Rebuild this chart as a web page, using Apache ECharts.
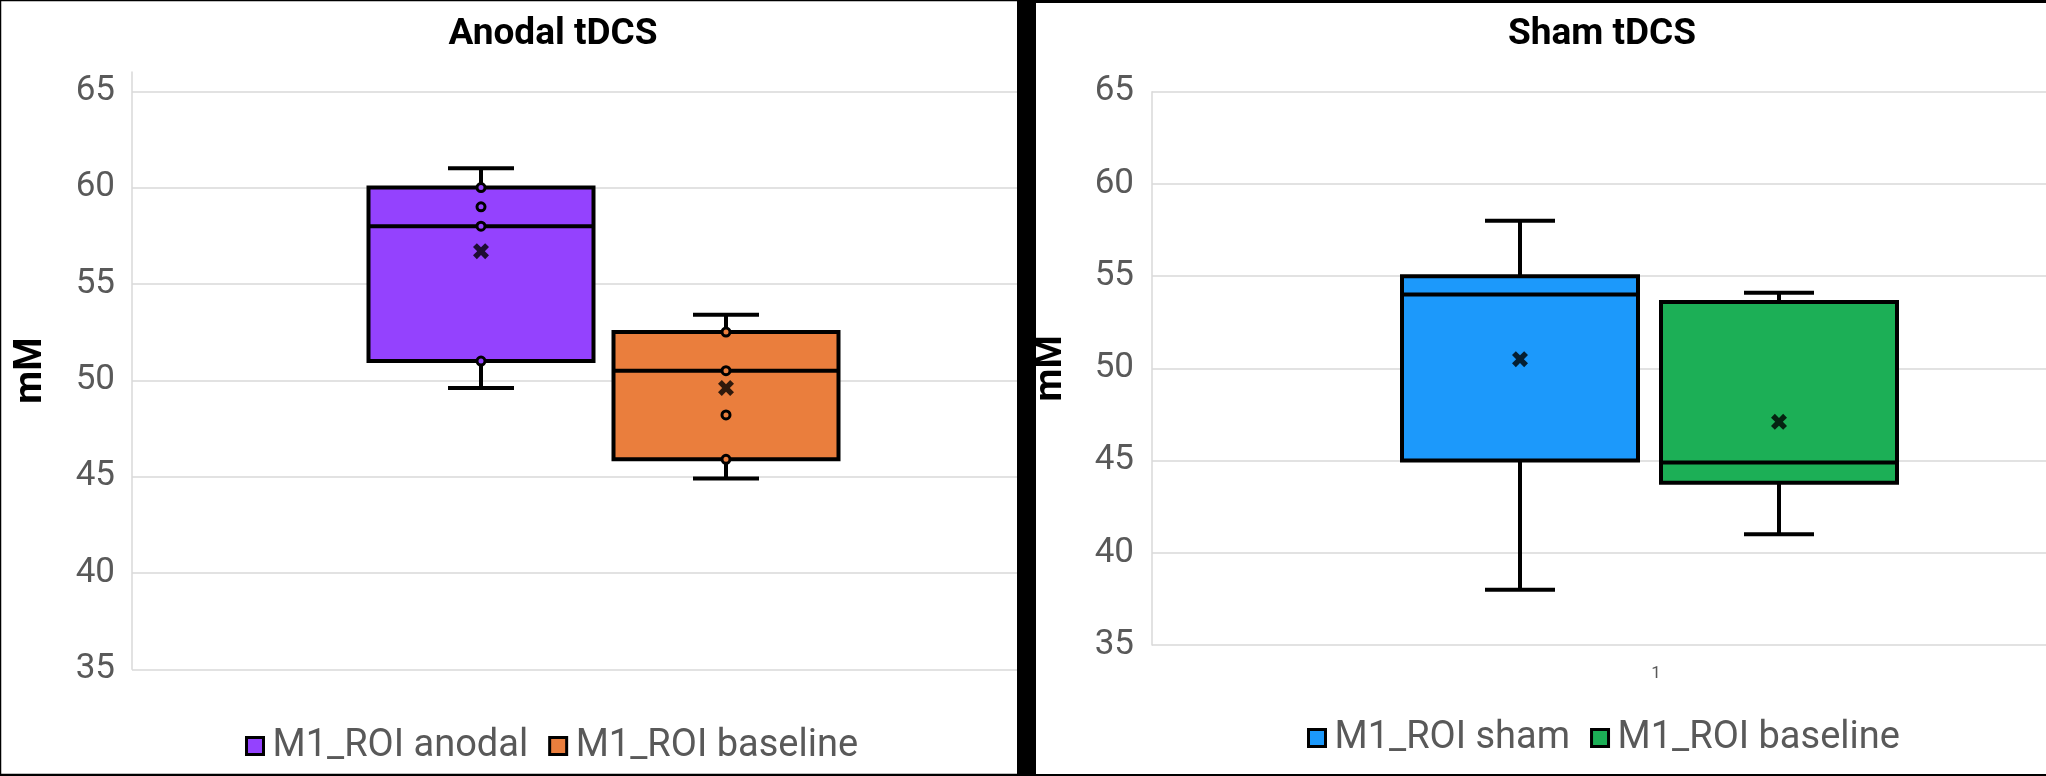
<!DOCTYPE html>
<html>
<head>
<meta charset="utf-8">
<script src="https://cdn.jsdelivr.net/npm/echarts@6/dist/echarts.min.js"></script>
<style>
  html, body { margin: 0; padding: 0; background: #fff; }
  #chart { width: 2046px; height: 776px; }
</style>
</head>
<body>
<div id="chart"></div>
<script>
// ---------------- data ----------------
const panelTitles = ['Anodal tDCS', 'Sham tDCS'];
const anodalCategories = ['M1_ROI anodal', 'M1_ROI baseline'];
const shamCategories = ['M1_ROI sham', 'M1_ROI baseline'];
const xTickLabels = ['1'];
// box stats: [min, Q1, median, Q3, max]
const anodalBox = [49.6, 51.0, 58.0, 60.0, 61.0];
const anodalBaselineBox = [44.9, 45.9, 50.5, 52.5, 53.4];
const shamBox = [38.0, 45.0, 54.0, 55.0, 58.0];
const shamBaselineBox = [41.0, 43.8, 44.9, 53.6, 54.1];
// means (x markers)
const anodalMean = 56.7;
const anodalBaselineMean = 49.6;
const shamMean = 50.5;
const shamBaselineMean = 47.1;
// inner points
const anodalPoints = [60, 59, 58, 51];
const anodalBaselinePoints = [52.5, 50.5, 48.2, 45.9];
// y axis
const yMin = 35, yMax = 65, yStep = 5;

// ---------------- styles ----------------
const FONT = 'Roboto, "Liberation Sans", sans-serif';
const C_PURPLE = '#9442FE';
const C_ORANGE = '#EA7E3D';
const C_BLUE = '#1C99FB';
const C_GREEN = '#1CAF56';
const GRID_GRAY = '#D9D9D9';
const LABEL_GRAY = '#595959';
const X_SYMBOL = 'path://M0,2.4 L2.4,0 L5,2.6 L7.6,0 L10,2.4 L7.4,5 L10,7.6 L7.6,10 L5,7.4 L2.4,10 L0,7.6 L2.6,5 Z';

function boxRender(boxW, capW) {
  return function (params, api) {
    const xi = api.value(0);
    const pMin = api.coord([xi, api.value(1)]);
    const pQ1 = api.coord([xi, api.value(2)]);
    const pMed = api.coord([xi, api.value(3)]);
    const pQ3 = api.coord([xi, api.value(4)]);
    const pMax = api.coord([xi, api.value(5)]);
    const x = pMin[0];
    const color = api.visual('color');
    const ls = { stroke: '#000', lineWidth: 4, lineCap: 'butt' };
    return {
      type: 'group',
      children: [
        { type: 'line', shape: { x1: x, y1: pQ3[1], x2: x, y2: pMax[1] }, style: ls },
        { type: 'line', shape: { x1: x, y1: pQ1[1], x2: x, y2: pMin[1] }, style: ls },
        { type: 'line', shape: { x1: x - capW / 2, y1: pMax[1], x2: x + capW / 2, y2: pMax[1] }, style: ls },
        { type: 'line', shape: { x1: x - capW / 2, y1: pMin[1], x2: x + capW / 2, y2: pMin[1] }, style: ls },
        { type: 'rect', shape: { x: x - boxW / 2, y: pQ3[1], width: boxW, height: pQ1[1] - pQ3[1] },
          style: { fill: color, stroke: '#000', lineWidth: 4 } },
        { type: 'line', shape: { x1: x - boxW / 2, y1: pMed[1], x2: x + boxW / 2, y2: pMed[1] }, style: ls }
      ]
    };
  };
}

function boxSeries(name, id, idx, stats, color, gridAxis, boxW, capW) {
  return {
    type: 'custom', name: name, id: id,
    xAxisIndex: gridAxis, yAxisIndex: gridAxis,
    itemStyle: { color: color },
    renderItem: boxRender(boxW, capW),
    encode: { x: 0, y: [1, 2, 3, 4, 5] },
    data: [[idx].concat(stats)],
    z: 3
  };
}

function meanSeries(idx, mean, gridAxis) {
  return {
    type: 'scatter', name: 'mean', xAxisIndex: gridAxis, yAxisIndex: gridAxis,
    symbol: X_SYMBOL, symbolSize: 16, itemStyle: { color: '#000' },
    data: [[idx, mean]], z: 5, silent: true
  };
}

function pointSeries(idx, pts, color, gridAxis) {
  return {
    type: 'scatter', name: 'points', xAxisIndex: gridAxis, yAxisIndex: gridAxis,
    symbol: 'circle', symbolSize: 8,
    itemStyle: { color: color, borderColor: '#000', borderWidth: 3, opacity: 1 },
    data: pts.map(v => [idx, v]), z: 5, silent: true
  };
}

const yLabel = { color: LABEL_GRAY, fontSize: 35, fontFamily: FONT };
const yName = { color: '#000', fontSize: 38, fontWeight: 'bold', fontFamily: FONT };
const legendText = { color: LABEL_GRAY, fontSize: 38, fontFamily: FONT, padding: [0, 0, 0, 4] };

const option = {
  backgroundColor: '#ffffff',
  animation: false,
  title: [
    { text: panelTitles[0], left: 548, top: 11, textAlign: 'center',
      textStyle: { fontSize: 37, fontWeight: 'bold', color: '#000', fontFamily: FONT } },
    { text: panelTitles[1], left: 1597, top: 11, textAlign: 'center',
      textStyle: { fontSize: 37, fontWeight: 'bold', color: '#000', fontFamily: FONT } }
  ],
  legend: [
    { left: 240, top: 722, itemWidth: 17, itemHeight: 17, itemGap: 20, icon: 'rect',
      textStyle: legendText,
      data: [
        { name: anodalCategories[0], itemStyle: { color: C_PURPLE, borderColor: '#000', borderWidth: 3 } },
        { name: anodalCategories[1], itemStyle: { color: C_ORANGE, borderColor: '#000', borderWidth: 3 } }
      ] },
    { left: 1302, top: 714, itemWidth: 17, itemHeight: 17, itemGap: 20, icon: 'rect',
      textStyle: legendText,
      data: [
        { name: shamCategories[0], itemStyle: { color: C_BLUE, borderColor: '#000', borderWidth: 3 } },
        { name: shamCategories[1] + ' ', itemStyle: { color: C_GREEN, borderColor: '#000', borderWidth: 3 } }
      ] }
  ],
  grid: [
    { left: 132, top: 72, width: 888, height: 597.3, outerBoundsMode: 'none' },
    { left: 358.5, top: 72, width: 490, height: 597.3, outerBoundsMode: 'none' },
    { left: 1152, top: 91.7, width: 1008, height: 553.3, outerBoundsMode: 'none' },
    { left: 1390.5, top: 91.7, width: 518, height: 553.3, outerBoundsMode: 'none' }
  ],
  xAxis: [
    { gridIndex: 0, type: 'category', data: [''], axisLine: { show: false }, axisTick: { show: false }, axisLabel: { show: false }, splitLine: { show: false } },
    { gridIndex: 1, type: 'category', data: anodalCategories, show: false },
    { gridIndex: 2, type: 'category', data: xTickLabels, axisLine: { show: false }, axisTick: { show: false },
      axisLabel: { show: true, color: LABEL_GRAY, fontSize: 17, fontFamily: FONT, margin: 20 }, splitLine: { show: false } },
    { gridIndex: 3, type: 'category', data: shamCategories, show: false }
  ],
  yAxis: [
    { gridIndex: 0, type: 'value', min: yMin, max: yMax + 1, interval: yStep,
      axisLine: { show: true, lineStyle: { color: GRID_GRAY, width: 1.5 } }, axisTick: { show: false },
      axisLabel: Object.assign({ margin: 17, showMaxLabel: false }, yLabel),
      splitLine: { show: true, showMaxLine: false, lineStyle: { color: GRID_GRAY, width: 1.5 } },
      name: 'mM', nameLocation: 'middle', nameRotate: 90, nameGap: 82, nameTextStyle: yName },
    { gridIndex: 1, type: 'value', min: yMin, max: yMax + 1, show: false, splitLine: { show: false } },
    { gridIndex: 2, type: 'value', min: yMin, max: yMax, interval: yStep,
      axisLine: { show: true, lineStyle: { color: GRID_GRAY, width: 1.5 } }, axisTick: { show: false },
      axisLabel: Object.assign({ margin: 18 }, yLabel),
      splitLine: { show: true, lineStyle: { color: GRID_GRAY, width: 1.5 } },
      name: 'mM', nameLocation: 'middle', nameRotate: 90, nameGap: 82, nameTextStyle: yName },
    { gridIndex: 3, type: 'value', min: yMin, max: yMax, show: false, splitLine: { show: false } }
  ],
  series: [
    boxSeries(anodalCategories[0], 'anodal', 0, anodalBox, C_PURPLE, 1, 225, 66),
    boxSeries(anodalCategories[1], 'anodalBaseline', 1, anodalBaselineBox, C_ORANGE, 1, 225, 66),
    pointSeries(0, anodalPoints, C_PURPLE, 1),
    pointSeries(1, anodalBaselinePoints, C_ORANGE, 1),
    meanSeries(0, anodalMean, 1),
    meanSeries(1, anodalBaselineMean, 1),
    boxSeries(shamCategories[0], 'sham', 0, shamBox, C_BLUE, 3, 236, 70),
    boxSeries(shamCategories[1] + ' ', 'shamBaseline', 1, shamBaselineBox, C_GREEN, 3, 236, 70),
    meanSeries(0, shamMean, 3),
    meanSeries(1, shamBaselineMean, 3)
  ],
  graphic: [
    { type: 'rect', z: 100, silent: true, shape: { x: 0.5, y: 0.5, width: 1018, height: 774 },
      style: { fill: null, stroke: '#000', lineWidth: 1.5 } },
    { type: 'rect', z: 100, silent: true, shape: { x: 1017, y: 0, width: 19, height: 776 }, style: { fill: '#000' } },
    { type: 'rect', z: 100, silent: true, shape: { x: 1036, y: 0, width: 1010, height: 3 }, style: { fill: '#000' } },
    { type: 'rect', z: 100, silent: true, shape: { x: 0, y: 774, width: 2046, height: 2 }, style: { fill: '#000' } }
  ]
};

const chart = echarts.init(document.getElementById('chart'), null, { renderer: 'canvas' });
chart.setOption(option);
</script>
</body>
</html>
